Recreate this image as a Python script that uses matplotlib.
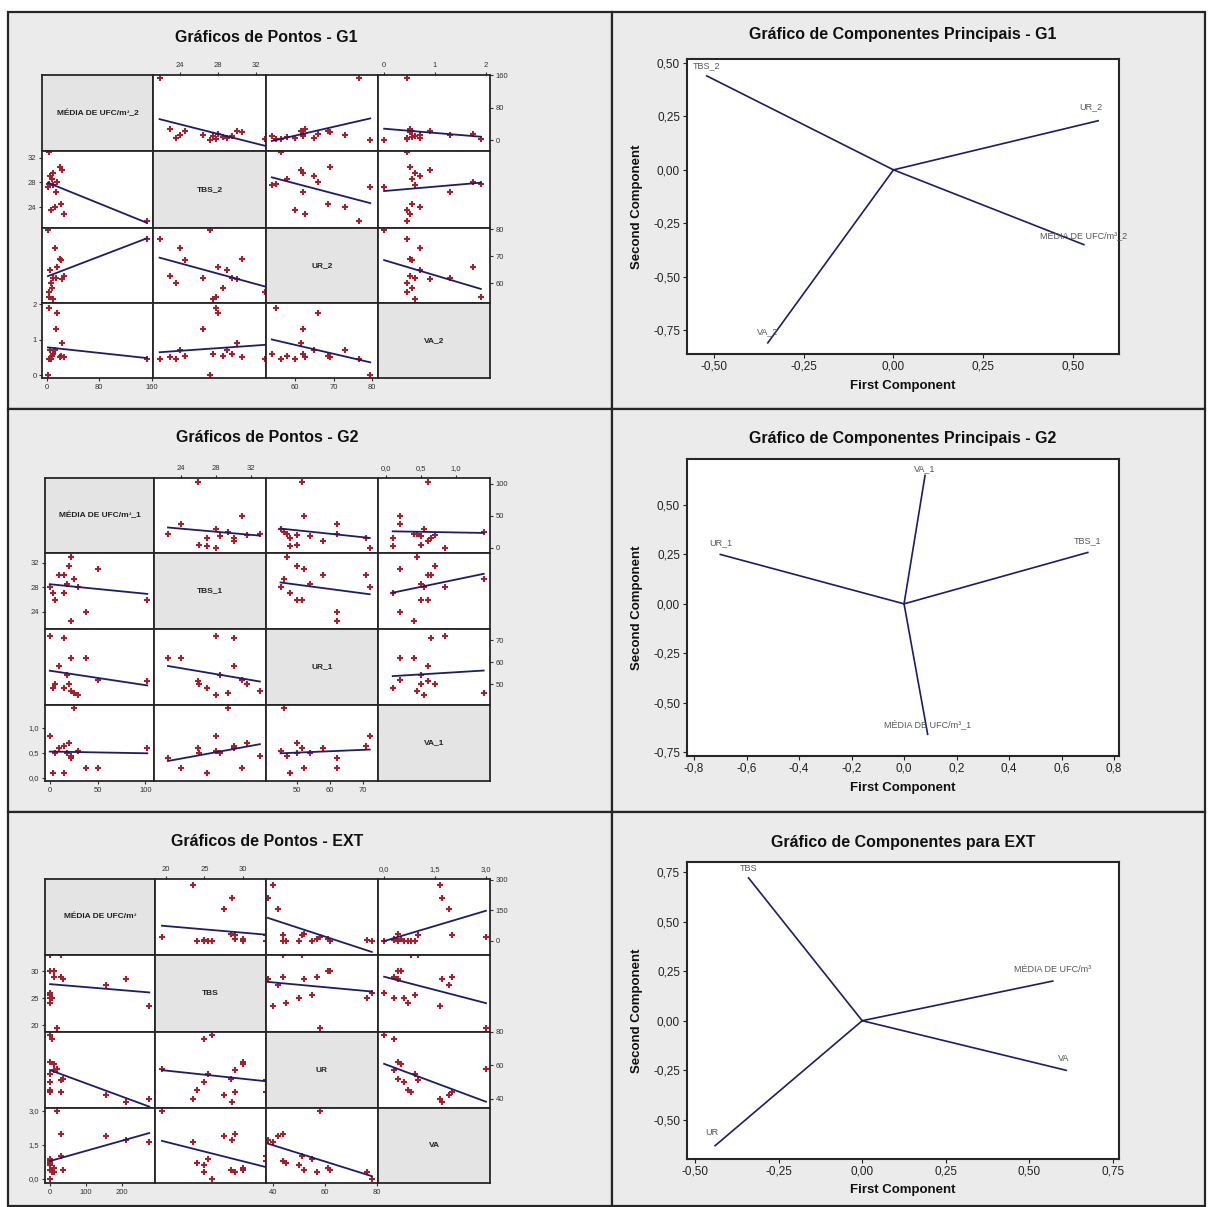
import numpy as np
import matplotlib.pyplot as plt
from matplotlib.patches import Rectangle
from matplotlib import font_manager

# ------------------------------- #
# Data
# ------------------------------- #

# G1 observations
MEDIA_G1 = [152, 3, 2, 3, 14, 24, 5, 8, 10, 20, 22, 27, 12, 10, 6, 16]
TBS_G1 = [21.8, 33.0, 27.2, 27.8, 26.4, 30.0, 29.0, 28.5, 29.5, 30.5, 24.5, 22.9, 24.0, 27.5, 23.5, 28.0]
UR_G1 = [76.5, 56.5, 79.5, 55.0, 62.0, 61.5, 65.0, 58.0, 62.0, 69.0, 68.5, 62.5, 73.0, 54.0, 60.0, 66.0]
VA_G1 = [0.45, 0.45, 0.00, 1.90, 1.30, 0.90, 0.70, 0.55, 0.60, 0.50, 0.55, 0.50, 0.70, 0.60, 0.45, 1.75]
NAMES_G1 = ["MÉDIA DE UFC/m³_2", "TBS_2", "UR_2", "VA_2"]

# G2 observations
MEDIA_G2 = [0, 3, 15, 15, 20, 22, 22, 25, 38, 50, 102, 18, 10, 5, 30]
TBS_G2 = [28.0, 27.0, 27.0, 30.0, 31.5, 33.0, 22.5, 29.4, 24.0, 31.0, 25.9, 28.5, 30.0, 26.0, 28.0]
UR_G2 = [72, 48, 48, 71, 50, 47, 62, 46, 62, 52, 51.5, 54, 58, 50, 45]
VA_G2 = [0.85, 0.10, 0.10, 0.65, 0.70, 0.45, 0.40, 1.40, 0.20, 0.20, 0.60, 0.50, 0.60, 0.50, 0.55]
NAMES_G2 = ["MÉDIA DE UFC/m³_1", "TBS_1", "UR_1", "VA_1"]

# EXT observations
MEDIA_EXT = [276, 211, 156, 20, 0, 30, 0, 10, 0, 0, 10, 0, 30, 0, 35, 5]
TBS_EXT = [23.5, 28.6, 27.5, 19.5, 33.0, 33.0, 26.0, 29.0, 30.0, 25.0, 30.0, 24.0, 29.0, 25.5, 28.5, 25.0]
UR_EXT = [40, 38, 42, 58, 44, 51, 78, 57, 62, 50, 61, 45, 44, 55, 52, 76]
VA_EXT = [1.65, 1.70, 1.90, 3.00, 0.80, 1.00, 0.00, 0.30, 0.40, 0.60, 0.50, 0.70, 2.00, 0.90, 0.40, 0.30]
NAMES_EXT = ["MÉDIA DE UFC/m³", "TBS", "UR", "VA"]

# Principal component loadings (same variable order as names)
PC1_G1 = [0.53, -0.52, 0.57, -0.35]
PC2_G1 = [-0.35, 0.44, 0.23, -0.81]
PC1_G2 = [0.09, 0.70, -0.70, 0.08]
PC2_G2 = [-0.66, 0.26, 0.25, 0.65]
PC1_EXT = [0.57, -0.34, -0.44, 0.61]
PC2_EXT = [0.20, 0.72, -0.63, -0.25]

# ------------------------------- #
# Style
# ------------------------------- #

W, H = 1209, 1207
available = {f.name for f in font_manager.fontManager.ttflist}
FONT = 'Liberation Sans Narrow' if 'Liberation Sans Narrow' in available else 'Liberation Sans'
plt.rcParams['font.family'] = [FONT, 'DejaVu Sans']

PANEL_BG = '#ebebeb'
DIAG_BG = '#e4e4e4'
EDGE = '#262626'
MARK = '#a3202c'
LINE = '#1c1c6b'

fig = plt.figure(figsize=(W / 100, H / 100), dpi=100)


# Convert pixel box to figure fraction
def box(x0, y0, x1, y1):
    return [x0 / W, 1 - y1 / H, (x1 - x0) / W, (y1 - y0) / H]


def comma(v, nd):
    return f"{v:.{nd}f}".replace('.', ',')


# Background panels
PANEL_X = [8, 612, 1205]
PANEL_Y = [12, 409, 812, 1206]
for i in range(3):
    for j in range(2):
        x0, x1 = PANEL_X[j], PANEL_X[j + 1]
        y0, y1 = PANEL_Y[i], PANEL_Y[i + 1]
        fig.add_artist(Rectangle((x0 / W, 1 - y1 / H), (x1 - x0) / W, (y1 - y0) / H,
                                 transform=fig.transFigure, facecolor=PANEL_BG,
                                 edgecolor=EDGE, lw=1.6, zorder=0))


# Draw a Minitab-like matrix plot
def draw_matrix(cols, names, gx, gy, xlims, ylims, xt, yt, dec, title, title_y):
    for r in range(4):
        for c in range(4):
            ax = fig.add_axes(box(gx[c], gy[r], gx[c + 1], gy[r + 1]))
            for s in ax.spines.values():
                s.set_linewidth(1.3)
                s.set_color(EDGE)
            if r == c:
                ax.set_facecolor(DIAG_BG)
                ax.text(0.5, 0.5, names[r], transform=ax.transAxes, ha='center', va='center',
                        fontsize=6, fontweight='bold', color='#222')
            else:
                x = np.array(cols[c], dtype=float)
                y = np.array(cols[r], dtype=float)
                ax.plot(x, y, ls='none', marker='+', ms=5, mew=1.5, color=MARK)
                k, b = np.polyfit(x, y, 1)
                xx = np.array([x.min(), x.max()])
                ax.plot(xx, k * xx + b, color=LINE, lw=1.3)
            ax.set_xlim(xlims[c])
            ax.set_ylim(ylims[r])
            ax.set_xticks([])
            ax.set_yticks([])
            ax.tick_params(length=2.5, width=0.8, labelsize=5.5, pad=1.5, colors='#333')
            if r == 3 and c % 2 == 0:
                ax.set_xticks(xt[c], [comma(v, dec[c]) for v in xt[c]])
            if r == 0 and c % 2 == 1:
                ax.xaxis.set_ticks_position('top')
                ax.set_xticks(xt[c], [comma(v, dec[c]) for v in xt[c]])
            if c == 0 and r % 2 == 1:
                ax.set_yticks(yt[r], [comma(v, dec[r]) for v in yt[r]])
            if c == 3 and r % 2 == 0:
                ax.yaxis.set_ticks_position('right')
                ax.set_yticks(yt[r], [comma(v, dec[r]) for v in yt[r]])
    fig.text((gx[0] + gx[-1]) / 2 / W, 1 - title_y / H, title, ha='center', va='center',
             fontsize=11.5, fontweight='bold', color='#111')


# Draw a loading plot
def draw_pca(rect, pc1, pc2, names, xlim, ylim, xticks, yticks, xdec, offsets, title, title_y, xlab_y):
    ax = fig.add_axes(box(*rect))
    for a, b, n, (dx, dy) in zip(pc1, pc2, names, offsets):
        ax.plot([0, a], [0, b], color=LINE, lw=1.2)
        ax.annotate(n, (a, b), xytext=(dx, dy), textcoords='offset points',
                    ha='center', va='center', fontsize=6.5, color='#555')
    ax.set_xlim(xlim)
    ax.set_ylim(ylim)
    ax.set_xticks(xticks, [comma(v, xdec) for v in xticks])
    ax.set_yticks(yticks, [comma(v, 2) for v in yticks])
    ax.tick_params(length=3, width=0.8, labelsize=8.5, pad=2, colors='#222')
    for s in ax.spines.values():
        s.set_linewidth(1.5)
        s.set_color(EDGE)
    cx = (rect[0] + rect[2]) / 2
    fig.text(cx / W, 1 - title_y / H, title, ha='center', va='center',
             fontsize=11.5, fontweight='bold', color='#111')
    fig.text(cx / W, 1 - xlab_y / H, 'First Component', ha='center', va='center',
             fontsize=9.5, fontweight='bold', color='#111')
    fig.text(637 / W, 1 - (rect[1] + rect[3]) / 2 / H, 'Second Component', ha='center', va='center',
             rotation=90, fontsize=9.5, fontweight='bold', color='#111')


# ------------------------------- #
# Matrix plots
# ------------------------------- #

draw_matrix([MEDIA_G1, TBS_G1, UR_G1, VA_G1], NAMES_G1,
            [42, 153, 266, 378, 490], [75, 151, 228, 303, 378],
            [(-7, 161.5), (21.1, 33.1), (52.5, 81.5), (-0.12, 2.08)],
            [(-26, 160), (20.6, 33.1), (52.6, 80.4), (-0.08, 2.03)],
            [[0, 80, 160], [24, 28, 32], [60, 70, 80], [0, 1, 2]],
            [[0, 80, 160], [24, 28, 32], [60, 70, 80], [0, 1, 2]],
            [0, 0, 0, 0], 'Gráficos de Pontos - G1', 37)

draw_matrix([MEDIA_G2, TBS_G2, UR_G2, VA_G2], NAMES_G2,
            [45, 154, 266, 378, 490], [478, 553, 629, 705, 781],
            [(-5, 109), (20.9, 33.7), (40.6, 74.5), (-0.11, 1.49)],
            [(-8, 109), (21.2, 33.6), (40.5, 75), (-0.06, 1.46)],
            [[0, 50, 100], [24, 28, 32], [50, 60, 70], [0, 0.5, 1.0]],
            [[0, 50, 100], [24, 28, 32], [50, 60, 70], [0, 0.5, 1.0]],
            [0, 0, 0, 1], 'Gráficos de Pontos - G2', 438)

draw_matrix([MEDIA_EXT, TBS_EXT, UR_EXT, VA_EXT], NAMES_EXT,
            [45, 155, 266, 378, 490], [879, 955, 1032, 1108, 1183],
            [(-14, 292), (18.6, 33), (37.3, 80.4), (-0.18, 3.12)],
            [(-69, 303), (18.7, 33), (34.5, 80), (-0.18, 3.13)],
            [[0, 100, 200], [20, 25, 30], [40, 60, 80], [0, 1.5, 3.0]],
            [[0, 150, 300], [20, 25, 30], [40, 60, 80], [0, 1.5, 3.0]],
            [0, 0, 0, 1], 'Gráficos de Pontos - EXT', 842)

# ------------------------------- #
# Loading plots
# ------------------------------- #

draw_pca((687, 59, 1119, 354), PC1_G1, PC2_G1, NAMES_G1,
         (-0.575, 0.628), (-0.862, 0.519),
         [-0.5, -0.25, 0, 0.25, 0.5], [-0.75, -0.5, -0.25, 0, 0.25, 0.5], 2,
         [(0, 6.5), (0, 7), (-5, 10), (0, 8.4)],
         'Gráfico de Componentes Principais - G1', 35, 386)

draw_pca((687, 459, 1119, 756), PC1_G2, PC2_G2, NAMES_G2,
         (-0.827, 0.819), (-0.77, 0.733),
         [-0.8, -0.6, -0.4, -0.2, 0, 0.2, 0.4, 0.6, 0.8], [-0.75, -0.5, -0.25, 0, 0.25, 0.5], 1,
         [(0, 7), (0, 8.6), (0, 8.6), (0, 5)],
         'Gráfico de Componentes Principais - G2', 438, 788)

draw_pca((687, 862, 1119, 1159), PC1_EXT, PC2_EXT, NAMES_EXT,
         (-0.524, 0.768), (-0.697, 0.80),
         [-0.5, -0.25, 0, 0.25, 0.5, 0.75], [-0.5, -0.25, 0, 0.25, 0.5, 0.75], 2,
         [(0, 8.4), (0, 7), (-2, 9.6), (-2, 8.6)],
         'Gráfico de Componentes para EXT', 842, 1190)

fig.savefig('out.png', dpi=100, facecolor='white')
